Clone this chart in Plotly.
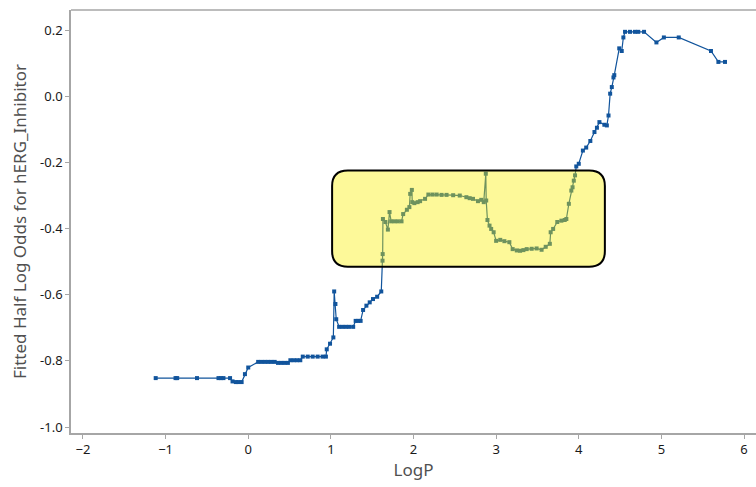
import plotly.graph_objects as go

# Fitted half log odds for hERG_Inhibitor as a function of LogP
logp = [
    -1.12, -0.88, -0.86, -0.62, -0.36, -0.33, -0.30, -0.22, -0.19, -0.15,
    -0.12, -0.08, -0.04, 0.00, 0.12, 0.16, 0.20, 0.24, 0.28, 0.32,
    0.36, 0.40, 0.44, 0.48, 0.51, 0.55, 0.59, 0.63, 0.66, 0.72,
    0.78, 0.84, 0.90, 0.94, 0.95, 0.99, 1.03, 1.04, 1.055, 1.065,
    1.10, 1.14, 1.18, 1.22, 1.27, 1.30, 1.33, 1.36, 1.39, 1.43,
    1.47, 1.51, 1.56, 1.61, 1.625, 1.627, 1.63, 1.66, 1.69, 1.71,
    1.73, 1.77, 1.81, 1.855, 1.875, 1.92, 1.95, 1.96, 1.98, 1.985,
    2.01, 2.05, 2.08, 2.14, 2.18, 2.23, 2.28, 2.34, 2.40, 2.48,
    2.56, 2.64, 2.68, 2.72, 2.78, 2.82, 2.85, 2.875, 2.88, 2.895,
    2.92, 2.94, 2.97, 3.00, 3.05, 3.10, 3.16, 3.20, 3.25, 3.29,
    3.33, 3.37, 3.43, 3.49, 3.55, 3.60, 3.65, 3.66, 3.69, 3.74,
    3.79, 3.83, 3.85, 3.88, 3.91, 3.925, 3.94, 3.955, 3.97, 4.00,
    4.05, 4.09, 4.14, 4.19, 4.22, 4.25, 4.31, 4.34, 4.36, 4.38,
    4.40, 4.42, 4.43, 4.49, 4.52, 4.54, 4.56, 4.62, 4.68, 4.72,
    4.79, 4.94, 5.03, 5.21, 5.60, 5.69, 5.77,
]
half_log_odds = [
    -0.852, -0.852, -0.852, -0.852, -0.852, -0.852, -0.852, -0.852, -0.862, -0.864,
    -0.864, -0.864, -0.840, -0.820, -0.803, -0.803, -0.803, -0.803, -0.803, -0.803,
    -0.806, -0.806, -0.806, -0.806, -0.798, -0.798, -0.798, -0.798, -0.787, -0.787,
    -0.787, -0.787, -0.787, -0.787, -0.765, -0.748, -0.729, -0.590, -0.628, -0.674,
    -0.697, -0.697, -0.697, -0.697, -0.697, -0.679, -0.679, -0.679, -0.646, -0.633,
    -0.623, -0.613, -0.606, -0.590, -0.497, -0.477, -0.371, -0.380, -0.403, -0.350,
    -0.378, -0.378, -0.378, -0.378, -0.356, -0.343, -0.335, -0.295, -0.283, -0.320,
    -0.323, -0.320, -0.317, -0.310, -0.297, -0.297, -0.297, -0.298, -0.298, -0.299,
    -0.300, -0.305, -0.308, -0.310, -0.317, -0.313, -0.320, -0.234, -0.315, -0.374,
    -0.391, -0.401, -0.411, -0.437, -0.434, -0.438, -0.441, -0.462, -0.466, -0.467,
    -0.465, -0.462, -0.461, -0.460, -0.464, -0.455, -0.446, -0.411, -0.401, -0.380,
    -0.376, -0.374, -0.371, -0.325, -0.285, -0.275, -0.255, -0.239, -0.212, -0.204,
    -0.164, -0.155, -0.135, -0.108, -0.095, -0.078, -0.086, -0.088, -0.058, 0.008,
    0.028, 0.057, 0.064, 0.145, 0.137, 0.178, 0.195, 0.195, 0.195, 0.195,
    0.195, 0.163, 0.178, 0.178, 0.137, 0.104, 0.104,
]

x_ticks = [-2, -1, 0, 1, 2, 3, 4, 5, 6]
y_ticks = [0.2, 0.0, -0.2, -0.4, -0.6, -0.8, -1.0]
y_tick_labels = ["0.2", "0.0", "-0.2", "-0.4", "-0.6", "-0.8", "-1.0"]

# Highlighted region (rounded rectangle) in data units
box_x0, box_x1 = 1.015, 4.316
box_y0, box_y1 = -0.515, -0.224
rx, ry = 0.19, 0.047

LINE_BLUE = "#11549c"
AXIS_GRAY = "#a6a6a6"
FONT = "Noto Sans, Open Sans, sans-serif"

fig = go.Figure()
fig.add_trace(go.Scatter(
    x=logp, y=half_log_odds, mode="lines+markers",
    line=dict(color=LINE_BLUE, width=1.2),
    marker=dict(symbol="square", size=4, color=LINE_BLUE),
    showlegend=False, hoverinfo="x+y",
))

box_path = (
    f"M {box_x0 + rx},{box_y1} L {box_x1 - rx},{box_y1} "
    f"Q {box_x1},{box_y1} {box_x1},{box_y1 - ry} "
    f"L {box_x1},{box_y0 + ry} "
    f"Q {box_x1},{box_y0} {box_x1 - rx},{box_y0} "
    f"L {box_x0 + rx},{box_y0} "
    f"Q {box_x0},{box_y0} {box_x0},{box_y0 + ry} "
    f"L {box_x0},{box_y1 - ry} "
    f"Q {box_x0},{box_y1} {box_x0 + rx},{box_y1} Z"
)
fig.add_shape(type="path", path=box_path, xref="x", yref="y",
              fillcolor="rgba(250,240,0,0.40)",
              line=dict(color="black", width=2), layer="above")

# top frame line
fig.add_shape(type="line", xref="paper", yref="paper", x0=0, x1=1, y0=1, y1=1,
              line=dict(color=AXIS_GRAY, width=1.5))

fig.update_layout(
    width=756, height=487,
    margin=dict(l=71, r=0, t=10, b=54),
    paper_bgcolor="white", plot_bgcolor="white",
    font=dict(family=FONT, color="#222222", size=13),
    xaxis=dict(
        range=[-2.145, 6.145], tickvals=x_ticks,
        showline=True, linecolor=AXIS_GRAY, linewidth=1.5,
        ticks="outside", ticklen=4, tickcolor=AXIS_GRAY,
        showgrid=False, zeroline=False,
        tickfont=dict(size=13, color="#1a1a1a"),
        title=dict(text="LogP", font=dict(size=17, color="#505050"), standoff=7),
    ),
    yaxis=dict(
        range=[-1.018, 0.261], tickvals=y_ticks, ticktext=y_tick_labels,
        showline=True, linecolor=AXIS_GRAY, linewidth=1.5,
        ticks="outside", ticklen=4, tickcolor=AXIS_GRAY,
        showgrid=False, zeroline=False,
        tickfont=dict(size=13, color="#1a1a1a"),
        title=dict(text="Fitted Half Log Odds for hERG_Inhibitor",
                   font=dict(size=17, color="#505050"), standoff=9),
    ),
)

fig.write_html("out.html")
